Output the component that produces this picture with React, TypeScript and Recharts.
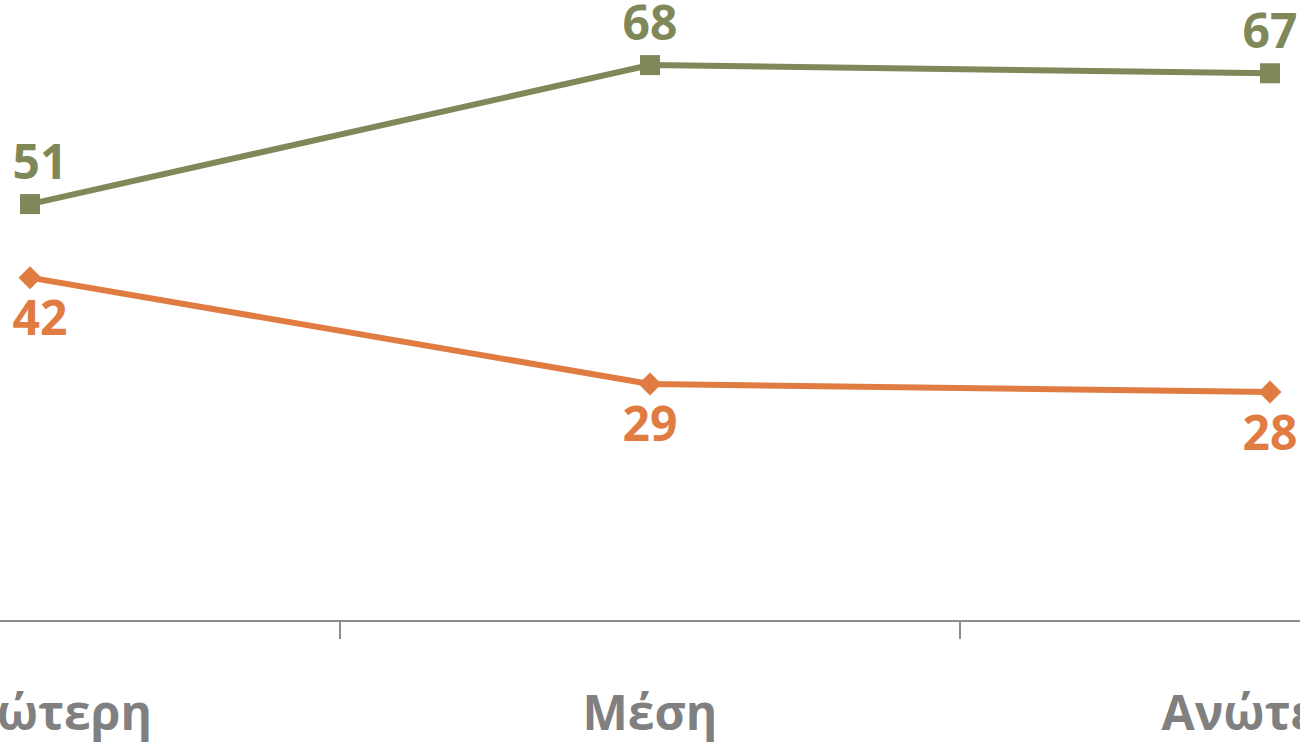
import { LineChart, Line, XAxis, YAxis, LabelList } from 'recharts'

const categories = ['Κατώτερη', 'Μέση', 'Ανώτερη']
const greenValues = [51, 68, 67]
const orangeValues = [42, 29, 28]
const dividerTicks = [0.5, 1.5]

const data = categories.map((name, i) => ({
  idx: i,
  name,
  green: greenValues[i],
  orange: orangeValues[i],
}))

const GREEN = '#7f8858'
const ORANGE = '#e07c42'
const GREY = '#808080'
const FONT = '"Open Sans", "DejaVu Sans", sans-serif'

const SquareDot = (props: any) => {
  const { cx, cy } = props
  if (cx == null || cy == null) return null
  return <rect x={cx - 10} y={cy - 10} width={20} height={20} fill={GREEN} />
}

const DiamondDot = (props: any) => {
  const { cx, cy } = props
  if (cx == null || cy == null) return null
  const r = 11.5
  return (
    <polygon
      points={`${cx},${cy - r} ${cx + r},${cy} ${cx},${cy + r} ${cx - r},${cy}`}
      fill={ORANGE}
    />
  )
}

// label baseline sits ~109px under the axis line
const CategoryTick = (props: any) => {
  const { x, y, payload } = props
  return (
    <text
      x={x}
      y={y + 89}
      textAnchor="middle"
      fill={GREY}
      fontSize={48}
      fontWeight={700}
      fontFamily={FONT}
    >
      {categories[payload.value]}
    </text>
  )
}

const EmptyTick = () => <g />

// Excel nudges the first label inwards so it stays inside the chart area
const makeValueLabel = (color: string, above: boolean) => (props: any) => {
  const { x, y, value, index } = props
  const shift = index === 0 ? 10 : 0
  return (
    <text
      x={x + shift}
      y={above ? y - 25 : y + 23}
      dy={above ? 0 : '0.72em'}
      textAnchor="middle"
      fill={color}
      fontSize={48}
      fontWeight={700}
      fontFamily={FONT}
    >
      {value}
    </text>
  )
}

const greenLabel = makeValueLabel(GREEN, true)
const orangeLabel = makeValueLabel(ORANGE, false)

export default function App() {
  return (
    <div style={{ position: 'fixed', left: 0, top: 0, width: 1300, height: 742, overflow: 'hidden', background: '#fff' }}>
      <div style={{ position: 'absolute', left: -280, top: -33 }}>
        <LineChart width={1860} height={784} data={data} margin={{ top: 0, right: 0, bottom: 0, left: 0 }}>
          <YAxis hide domain={[0, 80]} />
          <XAxis
            xAxisId="b"
            dataKey="idx"
            type="number"
            domain={[-0.5, 2.5]}
            ticks={[0, 1, 2]}
            axisLine={false}
            tickLine={false}
            tickSize={0}
            tickMargin={0}
            height={110}
            tick={<CategoryTick />}
            interval={0}
          />
          <XAxis
            xAxisId="a"
            dataKey="idx"
            type="number"
            domain={[-0.5, 2.5]}
            ticks={dividerTicks}
            tick={<EmptyTick />}
            tickLine={{ stroke: '#8c8c8c', strokeWidth: 2 }}
            tickSize={18}
            height={20}
            interval={0}
            stroke="#8c8c8c"
            strokeWidth={2}
          />
          <Line
            xAxisId="b"
            dataKey="green"
            stroke={GREEN}
            strokeWidth={6}
            dot={<SquareDot />}
            activeDot={false}
            isAnimationActive={false}
          >
            <LabelList dataKey="green" content={greenLabel} />
          </Line>
          <Line
            xAxisId="b"
            dataKey="orange"
            stroke={ORANGE}
            strokeWidth={6}
            dot={<DiamondDot />}
            activeDot={false}
            isAnimationActive={false}
          >
            <LabelList dataKey="orange" content={orangeLabel} />
          </Line>
        </LineChart>
      </div>
    </div>
  )
}
